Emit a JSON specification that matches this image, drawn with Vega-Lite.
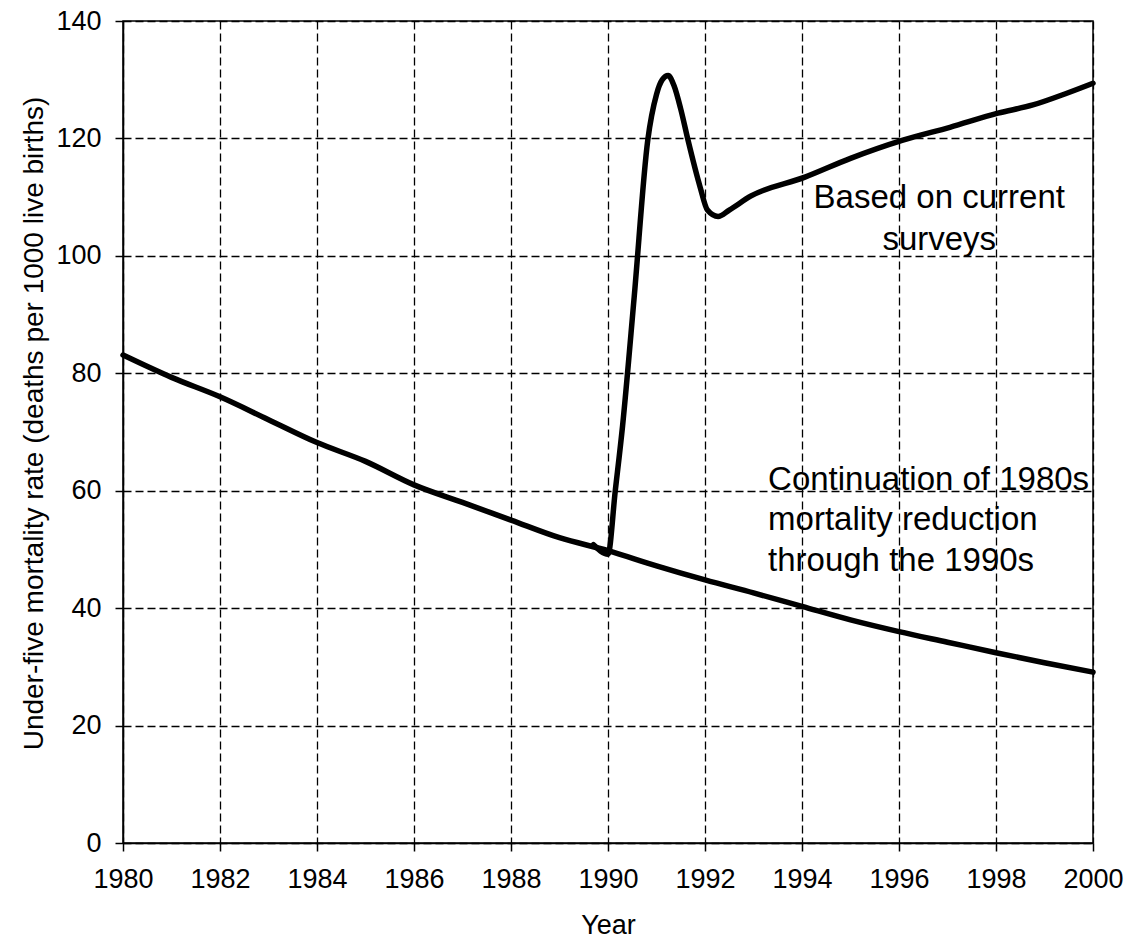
{
  "$schema": "https://vega.github.io/schema/vega-lite/v6.json",
  "width": 970,
  "height": 822,
  "autosize": "none",
  "padding": {"left": 123, "top": 21, "right": 41, "bottom": 104},
  "background": "#ffffff",
  "config": {
    "font": "Liberation Sans",
    "view": {"stroke": "#000000", "strokeWidth": 1.5},
    "axis": {
      "grid": true,
      "gridColor": "#000000",
      "gridDash": [8, 4],
      "gridWidth": 1.3,
      "gridOpacity": 1,
      "domainColor": "#000000",
      "domainWidth": 1.5,
      "tickColor": "#000000",
      "tickWidth": 1.5,
      "tickSize": 8,
      "labelColor": "#000000",
      "labelFontSize": 27,
      "labelFlush": false,
      "labelOverlap": false,
      "titleColor": "#000000",
      "titleFontWeight": "normal"
    }
  },
  "layer": [
    {
      "data": {
        "values": [
          {"series": "Continuation", "year": 1980, "rate": 83.1},
          {"series": "Continuation", "year": 1981, "rate": 79.3},
          {"series": "Continuation", "year": 1982, "rate": 76.0},
          {"series": "Continuation", "year": 1983, "rate": 72.1},
          {"series": "Continuation", "year": 1984, "rate": 68.2},
          {"series": "Continuation", "year": 1985, "rate": 65.0},
          {"series": "Continuation", "year": 1986, "rate": 61.0},
          {"series": "Continuation", "year": 1987, "rate": 58.0},
          {"series": "Continuation", "year": 1988, "rate": 55.0},
          {"series": "Continuation", "year": 1989, "rate": 52.0},
          {"series": "Continuation", "year": 1990, "rate": 49.8},
          {"series": "Continuation", "year": 1991, "rate": 47.2},
          {"series": "Continuation", "year": 1992, "rate": 44.8},
          {"series": "Continuation", "year": 1993, "rate": 42.6},
          {"series": "Continuation", "year": 1994, "rate": 40.3},
          {"series": "Continuation", "year": 1995, "rate": 38.0},
          {"series": "Continuation", "year": 1996, "rate": 36.0},
          {"series": "Continuation", "year": 1997, "rate": 34.2},
          {"series": "Continuation", "year": 1998, "rate": 32.4},
          {"series": "Continuation", "year": 1999, "rate": 30.7},
          {"series": "Continuation", "year": 2000, "rate": 29.1},
          {"series": "Surveys", "year": 1989.7, "rate": 50.8},
          {"series": "Surveys", "year": 1990.0, "rate": 49.2},
          {"series": "Surveys", "year": 1990.15, "rate": 60.0},
          {"series": "Surveys", "year": 1990.3, "rate": 71.0},
          {"series": "Surveys", "year": 1990.54, "rate": 93.0},
          {"series": "Surveys", "year": 1990.82, "rate": 119.7},
          {"series": "Surveys", "year": 1991.0, "rate": 127.5},
          {"series": "Surveys", "year": 1991.12, "rate": 130.0},
          {"series": "Surveys", "year": 1991.24, "rate": 130.7},
          {"series": "Surveys", "year": 1991.36, "rate": 129.0},
          {"series": "Surveys", "year": 1991.5, "rate": 125.0},
          {"series": "Surveys", "year": 1991.65, "rate": 119.7},
          {"series": "Surveys", "year": 1991.9, "rate": 111.7},
          {"series": "Surveys", "year": 1992.05, "rate": 107.8},
          {"series": "Surveys", "year": 1992.27, "rate": 106.7},
          {"series": "Surveys", "year": 1992.5, "rate": 107.8},
          {"series": "Surveys", "year": 1992.95, "rate": 110.2},
          {"series": "Surveys", "year": 1994.06, "rate": 113.4},
          {"series": "Surveys", "year": 1995.0, "rate": 116.6},
          {"series": "Surveys", "year": 1996.08, "rate": 119.7},
          {"series": "Surveys", "year": 1997.05, "rate": 121.9},
          {"series": "Surveys", "year": 1998.04, "rate": 124.3},
          {"series": "Surveys", "year": 1998.76, "rate": 125.7},
          {"series": "Surveys", "year": 1999.46, "rate": 127.7},
          {"series": "Surveys", "year": 2000.0, "rate": 129.4}
        ]
      },
      "mark": {"type": "line", "interpolate": "monotone", "strokeWidth": 5.5, "color": "#000000", "strokeJoin": "round", "strokeCap": "round"},
      "encoding": {
        "x": {
          "field": "year", "type": "quantitative",
          "scale": {"domain": [1980, 2000], "nice": false, "zero": false},
          "axis": {
            "values": [1980, 1982, 1984, 1986, 1988, 1990, 1992, 1994, 1996, 1998, 2000],
            "format": "d",
            "labelPadding": 15,
            "title": "Year",
            "titleFontSize": 27,
            "titlePadding": 20
          }
        },
        "y": {
          "field": "rate", "type": "quantitative",
          "scale": {"domain": [0, 140], "nice": false},
          "axis": {
            "values": [0, 20, 40, 60, 80, 100, 120, 140],
            "labelPadding": 14,
            "title": "Under-five mortality rate (deaths per 1000 live births)",
            "titleFontSize": 28,
            "titleX": -81,
            "titleY": 402,
            "titleAlign": "center",
            "titleBaseline": "alphabetic"
          }
        },
        "detail": {"field": "series"}
      }
    },
    {
      "data": {"values": [{"year": 1993.3, "rate": 60.2, "label": ["Continuation of 1980s", "mortality reduction", "through the 1990s"]}]},
      "mark": {"type": "text", "align": "left", "baseline": "alphabetic", "fontSize": 33, "lineHeight": 40.5, "color": "#000000"},
      "encoding": {
        "x": {"field": "year", "type": "quantitative"},
        "y": {"field": "rate", "type": "quantitative"},
        "text": {"field": "label"}
      }
    },
    {
      "data": {"values": [{"year": 1996.83, "rate": 108.2, "label": ["Based on current", "surveys"]}]},
      "mark": {"type": "text", "align": "center", "baseline": "alphabetic", "fontSize": 33, "lineHeight": 42, "color": "#000000"},
      "encoding": {
        "x": {"field": "year", "type": "quantitative"},
        "y": {"field": "rate", "type": "quantitative"},
        "text": {"field": "label"}
      }
    }
  ]
}
